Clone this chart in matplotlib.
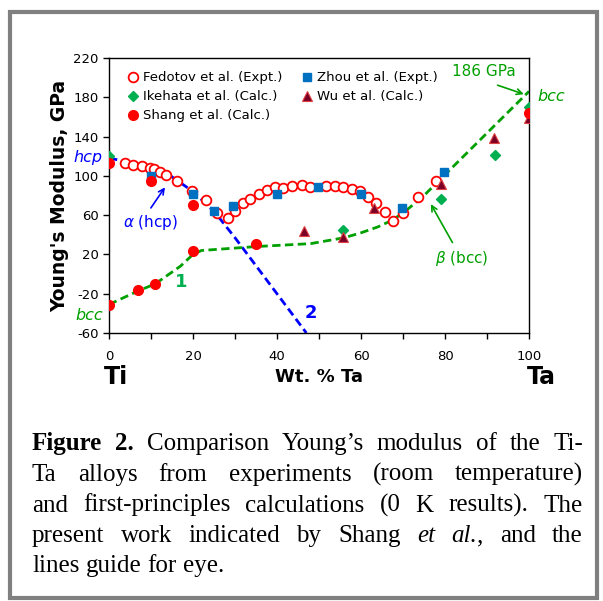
import numpy as np
import matplotlib
matplotlib.use('Agg')
import matplotlib.pyplot as plt
from matplotlib.patches import Rectangle

plt.rcParams['axes.unicode_minus'] = False

# ---- data (wt.% Ta, GPa) ----
fedotov_x = [3.8, 5.8, 7.8, 9.8, 10.8, 12.1, 13.6, 16.3, 19.8, 23.0, 25.6, 28.4,
             30.0, 31.8, 33.6, 35.8, 37.5, 39.5, 41.4, 43.6, 45.9, 47.9, 51.7, 53.8,
             55.8, 57.8, 59.8, 61.7, 63.6, 65.7, 67.7, 70.1, 73.6, 77.9]
fedotov_y = [112.8, 111, 110, 108, 107, 104.2, 101.2, 94.7, 85, 75.4, 61.8, 56.7,
             64.5, 72, 76, 81.2, 85.6, 89, 88, 90, 90.7, 89, 90, 90,
             88.3, 86.3, 84.9, 78.8, 72.6, 63.5, 54.3, 62.5, 78.8, 94.7]

zhou_x = [10, 20, 25, 29.6, 40, 49.7, 60, 69.8, 79.8]
zhou_y = [100, 82, 64, 69.5, 81.5, 89, 82, 67, 104]

ikehata_x = [0, 55.8, 79, 92, 100]
ikehata_y = [120, 45, 76, 121, 170]

wu_x = [46.5, 55.8, 63.1, 79, 91.7, 100]
wu_y = [44, 37.5, 67.5, 92, 139, 159]

shang_x = [0, 6.8, 11, 20, 35, 0, 10, 20, 100]
shang_y = [-31, -16, -10, 23, 31, 113, 95, 70, 164]

# guide lines
hcp_line_x = [0, 5, 10, 15, 20, 25, 30, 47]
hcp_line_y = [118, 114, 108, 99, 84, 64, 37, -60]
bcc_line_x = [0, 7, 11, 17, 20, 22, 35, 48, 56, 60, 64, 67, 70, 75, 100]
bcc_line_y = [-31, -17, -10, 8, 20, 24, 28, 31, 37, 42, 48, 54, 62, 80, 186]

W, H = 603, 601
fig = plt.figure(figsize=(W / 100, H / 100), dpi=100)

# grey frame round the whole figure
fig.patches.append(Rectangle((10 / W, 3 / H), 587 / W, (H - 15) / H,
                             transform=fig.transFigure, fill=False,
                             edgecolor='#808080', linewidth=3))

ax = fig.add_axes([109 / W, 1 - 333 / H, 420 / W, 275 / H])

green = '#00A000'
blue = '#0000FF'

ax.plot(hcp_line_x, hcp_line_y, color=blue, ls=(0, (3, 1.6)), lw=2, zorder=2)
ax.plot(bcc_line_x, bcc_line_y, color=green, ls=(0, (3, 1.6)), lw=2, zorder=2)

ax.plot(fedotov_x, fedotov_y, 'o', ms=7, mfc='white', mec='#FF0000', mew=1.3,
        ls='none', label='Fedotov et al. (Expt.)', zorder=3)
ax.plot(ikehata_x, ikehata_y, 'D', ms=5.5, mfc='#00B050', mec='#00B050',
        ls='none', label='Ikehata et al. (Calc.)', zorder=4)
ax.plot(shang_x, shang_y, 'o', ms=7, mfc='#FF0000', mec='#FF0000',
        ls='none', label='Shang et al. (Calc.)', zorder=5)
ax.plot(zhou_x, zhou_y, 's', ms=6, mfc='#0070C0', mec='#0070C0',
        ls='none', label='Zhou et al. (Expt.)', zorder=4)
ax.plot(wu_x, wu_y, '^', ms=7, mfc='#7B0028', mec='#E04040', mew=0.8,
        ls='none', label='Wu et al. (Calc.)', zorder=4)

ax.set_xlim(0, 100)
ax.set_ylim(-60, 220)
ax.set_xticks(np.arange(0, 101, 20))
ax.set_xticks(np.arange(0, 101, 10), minor=True)
ax.set_yticks(np.arange(-60, 221, 40))
ax.tick_params(axis='both', which='both', direction='out', labelsize=9.5,
               length=4, width=1)
ax.tick_params(axis='x', pad=8)
for s in ax.spines.values():
    s.set_linewidth(1)

ax.legend(loc='upper left', ncol=2, frameon=False, fontsize=9.5,
          bbox_to_anchor=(0.01, 0.995), handletextpad=0.15, columnspacing=1.3,
          labelspacing=0.45, handlelength=1.2)

ax.set_ylabel("Young's Modulus, GPa", fontsize=13.5, fontweight='bold', labelpad=3)
ax.annotate('Wt. % Ta', xy=(0.5, -0.16), xycoords='axes fraction',
            ha='center', va='center', fontsize=13, fontweight='bold')
fig.text(116 / W, 1 - 377 / H, 'Ti', ha='center', va='center',
         fontsize=17, fontweight='bold')
fig.text(541 / W, 1 - 377 / H, 'Ta', ha='center', va='center',
         fontsize=17, fontweight='bold')

# labels inside / around the plot
ax.text(-1.5, 119, 'hcp', color=blue, style='italic', fontsize=11.5,
        ha='right', va='center', clip_on=False)
ax.text(-1.5, -42, 'bcc', color=green, style='italic', fontsize=11.5,
        ha='right', va='center', clip_on=False)
ax.text(102, 181, 'bcc', color=green, style='italic', fontsize=11.5,
        ha='left', va='center', clip_on=False)
ax.text(3.3, 52, r'$\alpha$ (hcp)', color=blue, fontsize=11, ha='left', va='center')
ax.annotate('', xy=(13.7, 90.7), xytext=(9.6, 65),
            arrowprops=dict(arrowstyle='->', color=blue, lw=1.2))
ax.text(77.5, 16, r'$\beta$ (bcc)', color=green, fontsize=11, ha='left', va='center')
ax.annotate('', xy=(76.3, 73.7), xytext=(82.1, 29.6),
            arrowprops=dict(arrowstyle='->', color=green, lw=1.2))
ax.text(81.6, 206, '186 GPa', color=green, fontsize=11, ha='left', va='center')
ax.annotate('', xy=(99.4, 182.3), xytext=(91.9, 193.2),
            arrowprops=dict(arrowstyle='->', color=green, lw=1.2))
ax.text(17.3, -8, '1', color='#00B050', fontsize=13, fontweight='bold',
        ha='center', va='center')
ax.text(48, -40, '2', color=blue, fontsize=13, fontweight='bold',
        ha='center', va='center')

# ---- justified caption ----
cap_lines = [
    [[('Figure', 'bold', 'normal')], [('2.', 'bold', 'normal')],
     [('Comparison', 'normal', 'normal')], [('Young\u2019s', 'normal', 'normal')],
     [('modulus', 'normal', 'normal')], [('of', 'normal', 'normal')],
     [('the', 'normal', 'normal')], [('Ti-', 'normal', 'normal')]],
    [[(w, 'normal', 'normal')] for w in 'Ta alloys from experiments (room temperature)'.split()],
    [[(w, 'normal', 'normal')] for w in 'and first-principles calculations (0 K results). The'.split()],
    [[(w, 'normal', 'normal')] for w in 'present work indicated by Shang'.split()]
    + [[('et', 'normal', 'italic')], [('al.', 'normal', 'italic'), (',', 'normal', 'normal')],
       [('and', 'normal', 'normal')], [('the', 'normal', 'normal')]],
    [[(w, 'normal', 'normal')] for w in 'lines guide for eye.'.split()],
]
baselines = [450, 481, 511.5, 542, 572]
x_left, x_right = 32, 583
cap_font = dict(family='Liberation Serif', fontsize=18)

renderer = fig.canvas.get_renderer()


def seg_width(txt, weight, style):
    t = fig.text(0, 0, txt, fontweight=weight, fontstyle=style, **cap_font)
    w = t.get_window_extent(renderer).width
    t.remove()
    return w


space = seg_width('a a', 'normal', 'normal') - 2 * seg_width('a', 'normal', 'normal')
for i, words in enumerate(cap_lines):
    widths = [[seg_width(*seg) for seg in wd] for wd in words]
    totals = [sum(w) for w in widths]
    if i < len(cap_lines) - 1:
        gap = (x_right - x_left - sum(totals)) / (len(words) - 1)
    else:
        gap = space
    x = x_left
    for wd, ws in zip(words, widths):
        xx = x
        for (txt, weight, style), w in zip(wd, ws):
            fig.text(xx / W, 1 - baselines[i] / H, txt, fontweight=weight,
                     fontstyle=style, ha='left', va='baseline', **cap_font)
            xx += w
        x += sum(ws) + gap

fig.savefig('out.png', dpi=100)
